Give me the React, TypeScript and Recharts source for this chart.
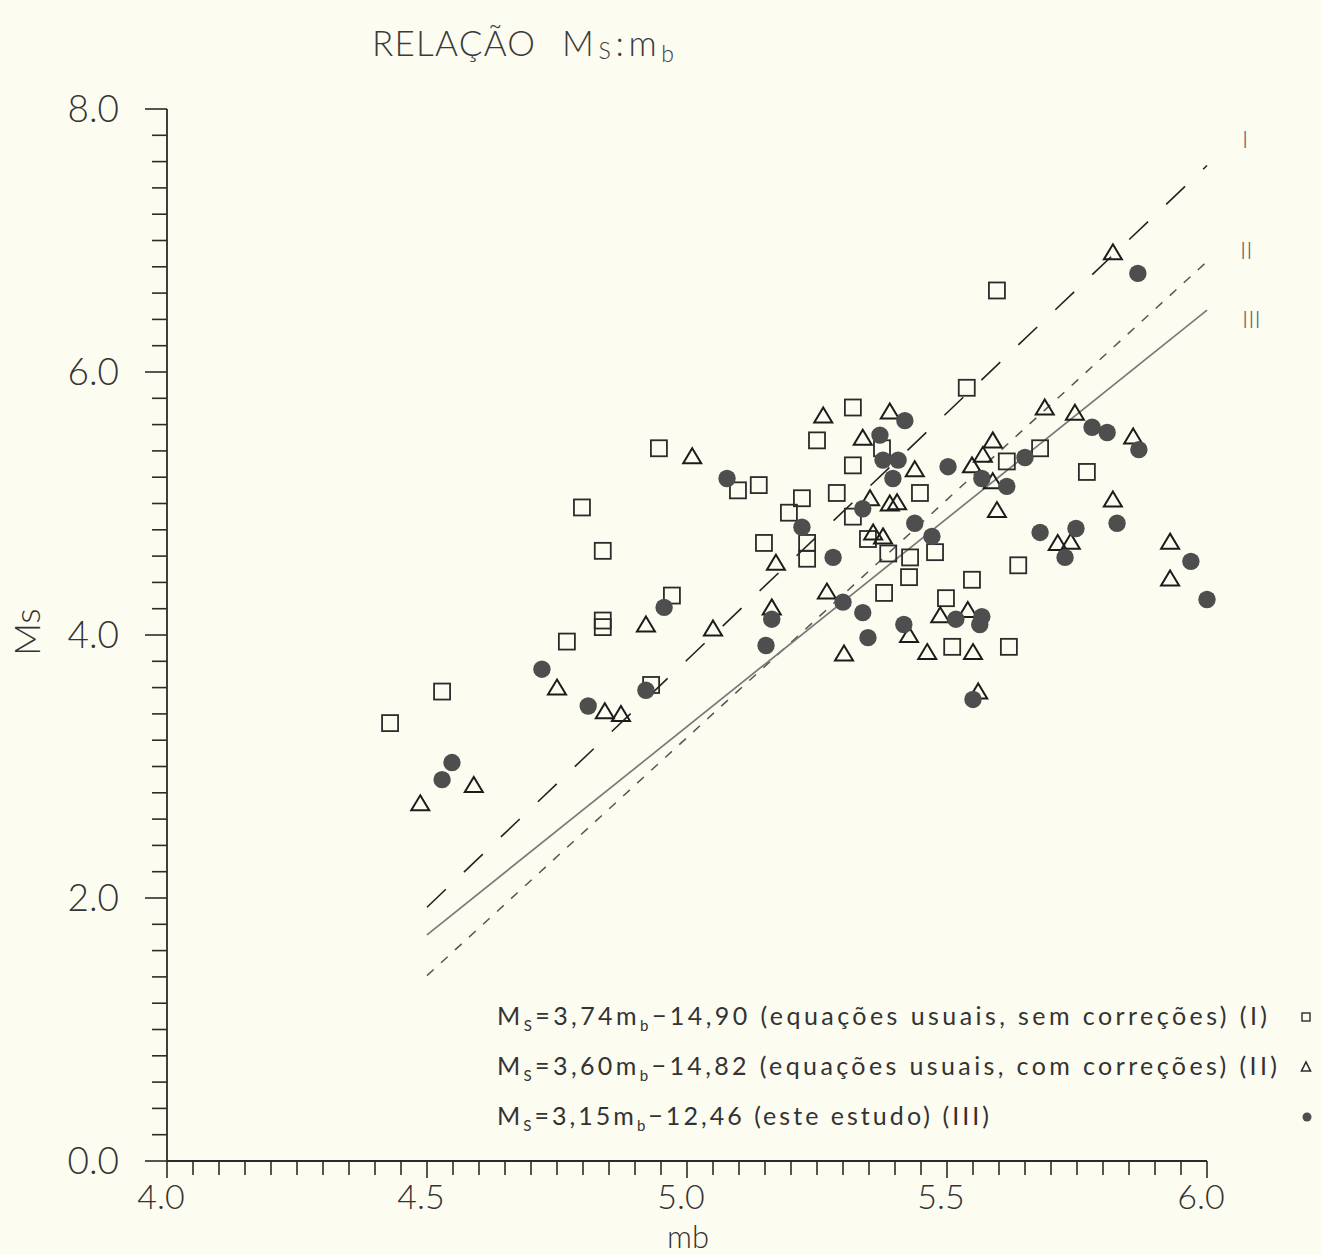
import { ScatterChart, Scatter, XAxis, YAxis, ReferenceLine, Legend } from "recharts"

// série I: equações usuais, sem correções (quadrados)
const semCorrecoes = [
  { mb: 4.946, ms: 5.42 }, { mb: 4.798, ms: 4.97 }, { mb: 4.838, ms: 4.64 }, { mb: 4.971, ms: 4.3 },
  { mb: 4.838, ms: 4.11 }, { mb: 4.838, ms: 4.06 }, { mb: 4.769, ms: 3.95 }, { mb: 4.931, ms: 3.62 },
  { mb: 4.529, ms: 3.57 }, { mb: 4.429, ms: 3.33 }, { mb: 5.538, ms: 5.88 }, { mb: 5.319, ms: 5.73 },
  { mb: 5.25, ms: 5.48 }, { mb: 5.375, ms: 5.42 }, { mb: 5.319, ms: 5.29 }, { mb: 5.098, ms: 5.1 },
  { mb: 5.138, ms: 5.14 }, { mb: 5.288, ms: 5.08 }, { mb: 5.448, ms: 5.08 }, { mb: 5.221, ms: 5.04 },
  { mb: 5.196, ms: 4.93 }, { mb: 5.319, ms: 4.9 }, { mb: 5.148, ms: 4.7 }, { mb: 5.231, ms: 4.7 },
  { mb: 5.348, ms: 4.73 }, { mb: 5.387, ms: 4.62 }, { mb: 5.429, ms: 4.59 }, { mb: 5.477, ms: 4.63 },
  { mb: 5.231, ms: 4.58 }, { mb: 5.427, ms: 4.44 }, { mb: 5.548, ms: 4.42 }, { mb: 5.379, ms: 4.32 },
  { mb: 5.498, ms: 4.28 }, { mb: 5.51, ms: 3.91 }, { mb: 5.596, ms: 6.62 }, { mb: 5.679, ms: 5.42 },
  { mb: 5.615, ms: 5.32 }, { mb: 5.769, ms: 5.24 }, { mb: 5.637, ms: 4.53 }, { mb: 5.619, ms: 3.91 },
]

// série II: equações usuais, com correções (triângulos)
const comCorrecoes = [
  { mb: 5.01, ms: 5.36 }, { mb: 4.921, ms: 4.08 }, { mb: 5.05, ms: 4.05 }, { mb: 4.75, ms: 3.6 },
  { mb: 4.842, ms: 3.42 }, { mb: 4.873, ms: 3.4 }, { mb: 4.59, ms: 2.86 }, { mb: 4.487, ms: 2.72 },
  { mb: 5.262, ms: 5.67 }, { mb: 5.39, ms: 5.7 }, { mb: 5.338, ms: 5.5 }, { mb: 5.438, ms: 5.26 },
  { mb: 5.588, ms: 5.48 }, { mb: 5.569, ms: 5.37 }, { mb: 5.548, ms: 5.29 }, { mb: 5.588, ms: 5.17 },
  { mb: 5.352, ms: 5.04 }, { mb: 5.39, ms: 5.0 }, { mb: 5.404, ms: 5.01 }, { mb: 5.596, ms: 4.95 },
  { mb: 5.358, ms: 4.78 }, { mb: 5.377, ms: 4.75 }, { mb: 5.171, ms: 4.55 }, { mb: 5.269, ms: 4.33 },
  { mb: 5.163, ms: 4.21 }, { mb: 5.487, ms: 4.15 }, { mb: 5.54, ms: 4.19 }, { mb: 5.427, ms: 4.0 },
  { mb: 5.302, ms: 3.86 }, { mb: 5.462, ms: 3.87 }, { mb: 5.55, ms: 3.87 }, { mb: 5.56, ms: 3.57 },
  { mb: 5.819, ms: 6.91 }, { mb: 5.688, ms: 5.73 }, { mb: 5.746, ms: 5.69 }, { mb: 5.858, ms: 5.51 },
  { mb: 5.819, ms: 5.03 }, { mb: 5.713, ms: 4.7 }, { mb: 5.738, ms: 4.71 }, { mb: 5.929, ms: 4.71 },
  { mb: 5.929, ms: 4.43 },
]

// série III: este estudo (círculos cheios)
const esteEstudo = [
  { mb: 4.956, ms: 4.21 }, { mb: 4.721, ms: 3.74 }, { mb: 4.921, ms: 3.58 }, { mb: 4.81, ms: 3.46 },
  { mb: 4.548, ms: 3.03 }, { mb: 4.529, ms: 2.9 }, { mb: 5.419, ms: 5.63 }, { mb: 5.371, ms: 5.52 },
  { mb: 5.377, ms: 5.33 }, { mb: 5.406, ms: 5.33 }, { mb: 5.502, ms: 5.28 }, { mb: 5.567, ms: 5.19 },
  { mb: 5.396, ms: 5.19 }, { mb: 5.077, ms: 5.19 }, { mb: 5.338, ms: 4.96 }, { mb: 5.221, ms: 4.82 },
  { mb: 5.438, ms: 4.85 }, { mb: 5.471, ms: 4.75 }, { mb: 5.281, ms: 4.59 }, { mb: 5.3, ms: 4.25 },
  { mb: 5.163, ms: 4.12 }, { mb: 5.338, ms: 4.17 }, { mb: 5.517, ms: 4.12 }, { mb: 5.567, ms: 4.14 },
  { mb: 5.563, ms: 4.08 }, { mb: 5.417, ms: 4.08 }, { mb: 5.348, ms: 3.98 }, { mb: 5.152, ms: 3.92 },
  { mb: 5.55, ms: 3.51 }, { mb: 5.867, ms: 6.75 }, { mb: 5.779, ms: 5.58 }, { mb: 5.808, ms: 5.54 },
  { mb: 5.869, ms: 5.41 }, { mb: 5.65, ms: 5.35 }, { mb: 5.615, ms: 5.13 }, { mb: 5.827, ms: 4.85 },
  { mb: 5.679, ms: 4.78 }, { mb: 5.748, ms: 4.81 }, { mb: 5.727, ms: 4.59 }, { mb: 5.969, ms: 4.56 },
  { mb: 6.0, ms: 4.27 },
]

// retas de ajuste (extremos)
const retaI = [{ x: 4.5, y: 1.93 }, { x: 6.0, y: 7.57 }]
const retaII = [{ x: 4.5, y: 1.41 }, { x: 6.0, y: 6.84 }]
const retaIII = [{ x: 4.5, y: 1.72 }, { x: 6.0, y: 6.47 }]

const xTicks = [
  4.0, 4.05, 4.1, 4.15, 4.2, 4.25, 4.3, 4.35, 4.4, 4.45, 4.5, 4.55, 4.6, 4.65, 4.7, 4.75, 4.8, 4.85, 4.9, 4.95,
  5.0, 5.05, 5.1, 5.15, 5.2, 5.25, 5.3, 5.35, 5.4, 5.45, 5.5, 5.55, 5.6, 5.65, 5.7, 5.75, 5.8, 5.85, 5.9, 5.95, 6.0,
]
const xLabels = [4.0, 4.5, 5.0, 5.5, 6.0]
const yTicks = [
  0, 0.2, 0.4, 0.6, 0.8, 1.0, 1.2, 1.4, 1.6, 1.8, 2.0, 2.2, 2.4, 2.6, 2.8, 3.0, 3.2, 3.4, 3.6, 3.8,
  4.0, 4.2, 4.4, 4.6, 4.8, 5.0, 5.2, 5.4, 5.6, 5.8, 6.0, 6.2, 6.4, 6.6, 6.8, 7.0, 7.2, 7.4, 7.6, 7.8, 8.0,
]
const yLabels = [0, 2, 4, 6, 8]

const legendRows = [
  { coef: "=3,74m", rest: "−14,90 (equações usuais, sem correções) (I)", len: 770, mark: "square" },
  { coef: "=3,60m", rest: "−14,82 (equações usuais, com correções) (II)", len: 780, mark: "triangle" },
  { coef: "=3,15m", rest: "−12,46 (este estudo) (III)", len: 492, mark: "dot" },
]

const FONT = "Lato, 'Open Sans', sans-serif"
const INK = "#2b2b2b"
const BG = "#fdfcf1"

const isIn = (list: number[], v: number) => list.some((t) => Math.abs(t - v) < 1e-6)

const SquareShape = (p: any) => (
  <rect x={p.cx - 8} y={p.cy - 8} width={16} height={16} fill="none" stroke={INK} strokeWidth={1.8} />
)
const TriangleShape = (p: any) => (
  <path
    d={`M${p.cx},${p.cy - 8} L${p.cx + 9},${p.cy + 7} L${p.cx - 9},${p.cy + 7} Z`}
    fill="none"
    stroke="#1c1c1c"
    strokeWidth={2}
  />
)
const DotShape = (p: any) => <circle cx={p.cx} cy={p.cy} r={8.7} fill="#4e4e4e" />

const XTick = (props: any) => {
  const { x, y, payload } = props
  const major = isIn(xLabels, payload.value)
  return (
    <g>
      <line x1={x} x2={x} y1={y} y2={y + (major ? 17 : 14)} stroke={INK} strokeWidth={1.6} />
      {major && (
        <text x={x - 6} y={y + 48} textAnchor="middle" fontSize={34} fontFamily={FONT} fontWeight={300} fill="#333">
          {payload.value.toFixed(1)}
        </text>
      )}
    </g>
  )
}

const YTick = (props: any) => {
  const { x, y, payload } = props
  const major = isIn(yLabels, payload.value)
  return (
    <g>
      <line x1={x - (major ? 22 : 15)} x2={x} y1={y} y2={y} stroke={INK} strokeWidth={1.6} />
      {major && (
        <text x={x - 48} y={y + 13} textAnchor="end" fontSize={37} fontFamily={FONT} fontWeight={300} fill="#333">
          {payload.value.toFixed(1)}
        </text>
      )}
    </g>
  )
}

const renderLegend = () => (
  <svg width={841} height={150}>
    {legendRows.map((row, i) => {
      const cy = 22 + i * 50
      return (
        <g key={i}>
          <text
            x={17}
            y={cy + 8}
            fontSize={25}
            fontFamily={FONT}
            fill="#333"
            textLength={row.len}
            lengthAdjust="spacing"
          >
            M
            <tspan fontSize={15} dy={6}>S</tspan>
            <tspan dy={-6}>{row.coef}</tspan>
            <tspan fontSize={15} dy={6}>b</tspan>
            <tspan dy={-6}>{row.rest}</tspan>
          </text>
          {row.mark === "square" && (
            <rect x={822} y={cy - 4} width={8} height={8} fill="none" stroke={INK} strokeWidth={1.4} />
          )}
          {row.mark === "triangle" && (
            <path d={`M826,${cy - 5} L830.5,${cy + 4} L821.5,${cy + 4} Z`} fill="none" stroke={INK} strokeWidth={1.6} />
          )}
          {row.mark === "dot" && <circle cx={827} cy={cy} r={4.5} fill="#4e4e4e" />}
        </g>
      )
    })}
  </svg>
)

export default function App() {
  return (
    <div style={{ position: "absolute", left: 0, top: 0, width: 1321, height: 1255, background: BG }}>
      <ScatterChart width={1321} height={1255} margin={{ top: 109, right: 114, bottom: 34, left: 0 }}>
        <XAxis
          type="number"
          dataKey="mb"
          domain={[4, 6]}
          ticks={xTicks}
          interval={0}
          tickSize={0}
          tickMargin={0}
          tick={<XTick />}
          height={60}
          axisLine={{ stroke: INK, strokeWidth: 1.8 }}
          label={() => (
            <text x={688} y={1248} textAnchor="middle" fontSize={31} fontFamily={FONT} fontWeight={300} fill="#333">
              mb
            </text>
          )}
        />
        <YAxis
          type="number"
          dataKey="ms"
          domain={[0, 8]}
          ticks={yTicks}
          interval={0}
          tickSize={0}
          tickMargin={0}
          tick={<YTick />}
          width={167}
          axisLine={{ stroke: INK, strokeWidth: 1.8 }}
          label={() => (
            <text
              x={40}
              y={632}
              transform="rotate(-90 40 632)"
              textAnchor="middle"
              fontSize={36}
              fontFamily={FONT}
              fontWeight={300}
              fill="#333"
            >
              Ms
            </text>
          )}
        />
        <ReferenceLine segment={retaI} stroke="#222" strokeWidth={1.6} strokeDasharray="26 25" />
        <ReferenceLine segment={retaII} stroke="#555" strokeWidth={1.5} strokeDasharray="9 10" />
        <ReferenceLine segment={retaIII} stroke="#7a7a7a" strokeWidth={1.7} />
        <Scatter name="I" data={semCorrecoes} shape={SquareShape} isAnimationActive={false} />
        <Scatter name="II" data={comCorrecoes} shape={TriangleShape} isAnimationActive={false} />
        <Scatter name="III" data={esteEstudo} shape={DotShape} isAnimationActive={false} />
        <Legend
          layout="horizontal"
          verticalAlign="middle"
          align="center"
          content={renderLegend}
          wrapperStyle={{ position: "absolute", left: 480, top: 995, width: 841, height: 150 }}
        />
      </ScatterChart>
      <svg
        width={1321}
        height={1255}
        style={{ position: "absolute", left: 0, top: 0, pointerEvents: "none" }}
        fontFamily={FONT}
        fontWeight={300}
        fill="#3a3a3a"
      >
        <text x={372} y={56} fontSize={35} textLength={163} lengthAdjust="spacing">
          RELAÇÃO
        </text>
        <text x={562} y={56} fontSize={35} textLength={112} lengthAdjust="spacing">
          M<tspan fontSize={23} dy={3}>S</tspan>
          <tspan dy={-3}>:m</tspan>
          <tspan fontSize={23} dy={6}>b</tspan>
        </text>
        <text x={1242} y={148} fontSize={24} fill="#666">I</text>
        <text x={1240} y={259} fontSize={24} fill="#666">II</text>
        <text x={1242} y={328} fontSize={24} fill="#666">III</text>
      </svg>
    </div>
  )
}
